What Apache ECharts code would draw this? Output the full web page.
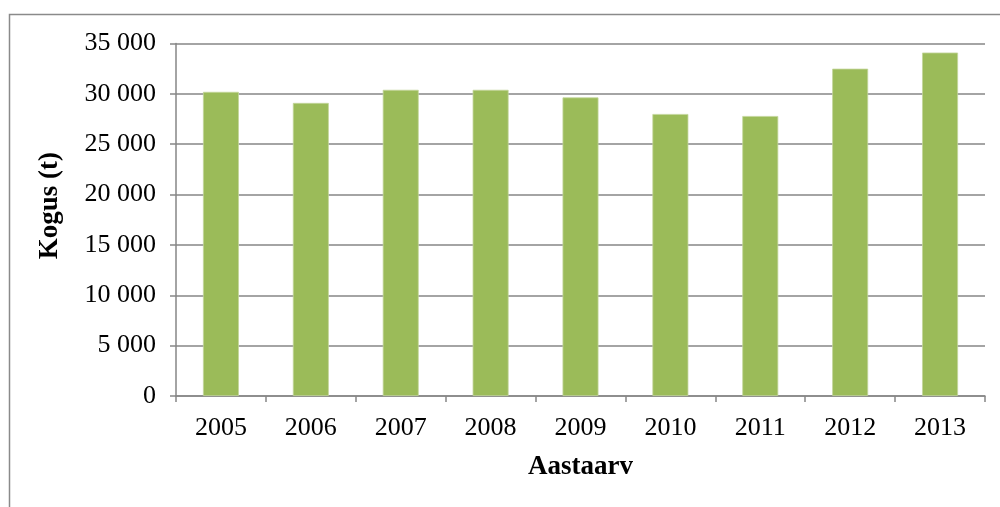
<!DOCTYPE html>
<html>
<head>
<meta charset="utf-8">
<script src="https://cdn.jsdelivr.net/npm/echarts@6/dist/echarts.min.js"></script>
<style>
  html, body { margin: 0; padding: 0; background: #fff; }
  #chart { width: 1000px; height: 507px; }
</style>
</head>
<body>
<div id="chart"></div>
<script>
// Yearly quantity (tonnes)
const years = ['2005', '2006', '2007', '2008', '2009', '2010', '2011', '2012', '2013'];
const quantities = [30200, 29100, 30400, 30400, 29650, 28000, 27800, 32500, 34100];
const yTitle = 'Kogus (t)';
const xTitle = 'Aastaarv';

const chart = echarts.init(document.getElementById('chart'), null, { renderer: 'canvas' });

// thousands separated with a space, e.g. 35 000
const fmt = v => String(v).replace(/\B(?=(\d{3})+(?!\d))/g, ' ');

const axisGray = '#868686';
const font = '"Liberation Serif", "Times New Roman", serif';

chart.setOption({
  animation: false,
  backgroundColor: '#fff',
  graphic: [{
    type: 'rect',
    shape: { x: 9.5, y: 14.5, width: 1200, height: 800 },
    style: { fill: 'none', stroke: '#8a8a8a', lineWidth: 1.5 },
    z: -1
  }],
  grid: { left: 176, right: 15, top: 43.5, bottom: 111, containLabel: false },
  xAxis: {
    type: 'category',
    data: years,
    name: xTitle,
    nameLocation: 'middle',
    nameGap: 58,
    nameTextStyle: { fontFamily: font, fontSize: 27, fontWeight: 'bold', color: '#000' },
    axisLine: { lineStyle: { color: axisGray, width: 1.5 } },
    axisTick: { show: true, length: 6, lineStyle: { color: axisGray, width: 1.5 } },
    axisLabel: { fontFamily: font, fontSize: 26, color: '#000', margin: 19 }
  },
  yAxis: {
    type: 'value',
    min: 0,
    max: 35000,
    interval: 5000,
    name: yTitle,
    nameLocation: 'middle',
    nameGap: 112,
    nameRotate: 90,
    nameTextStyle: { fontFamily: font, fontSize: 27, fontWeight: 'bold', color: '#000', padding: [0, 0, 0, 28] },
    axisLine: { show: true, lineStyle: { color: axisGray, width: 1.5 } },
    axisTick: { show: true, length: 6, lineStyle: { color: axisGray, width: 1.5 } },
    axisLabel: { fontFamily: font, fontSize: 26, color: '#000', margin: 20, formatter: fmt },
    splitLine: { show: true, lineStyle: { color: axisGray, width: 1.5 } }
  },
  series: [{
    type: 'bar',
    data: quantities,
    barWidth: '40%',
    itemStyle: { color: '#9BBB59', borderColor: '#c3d69b', borderWidth: 0.8 }
  }]
});
</script>
</body>
</html>
